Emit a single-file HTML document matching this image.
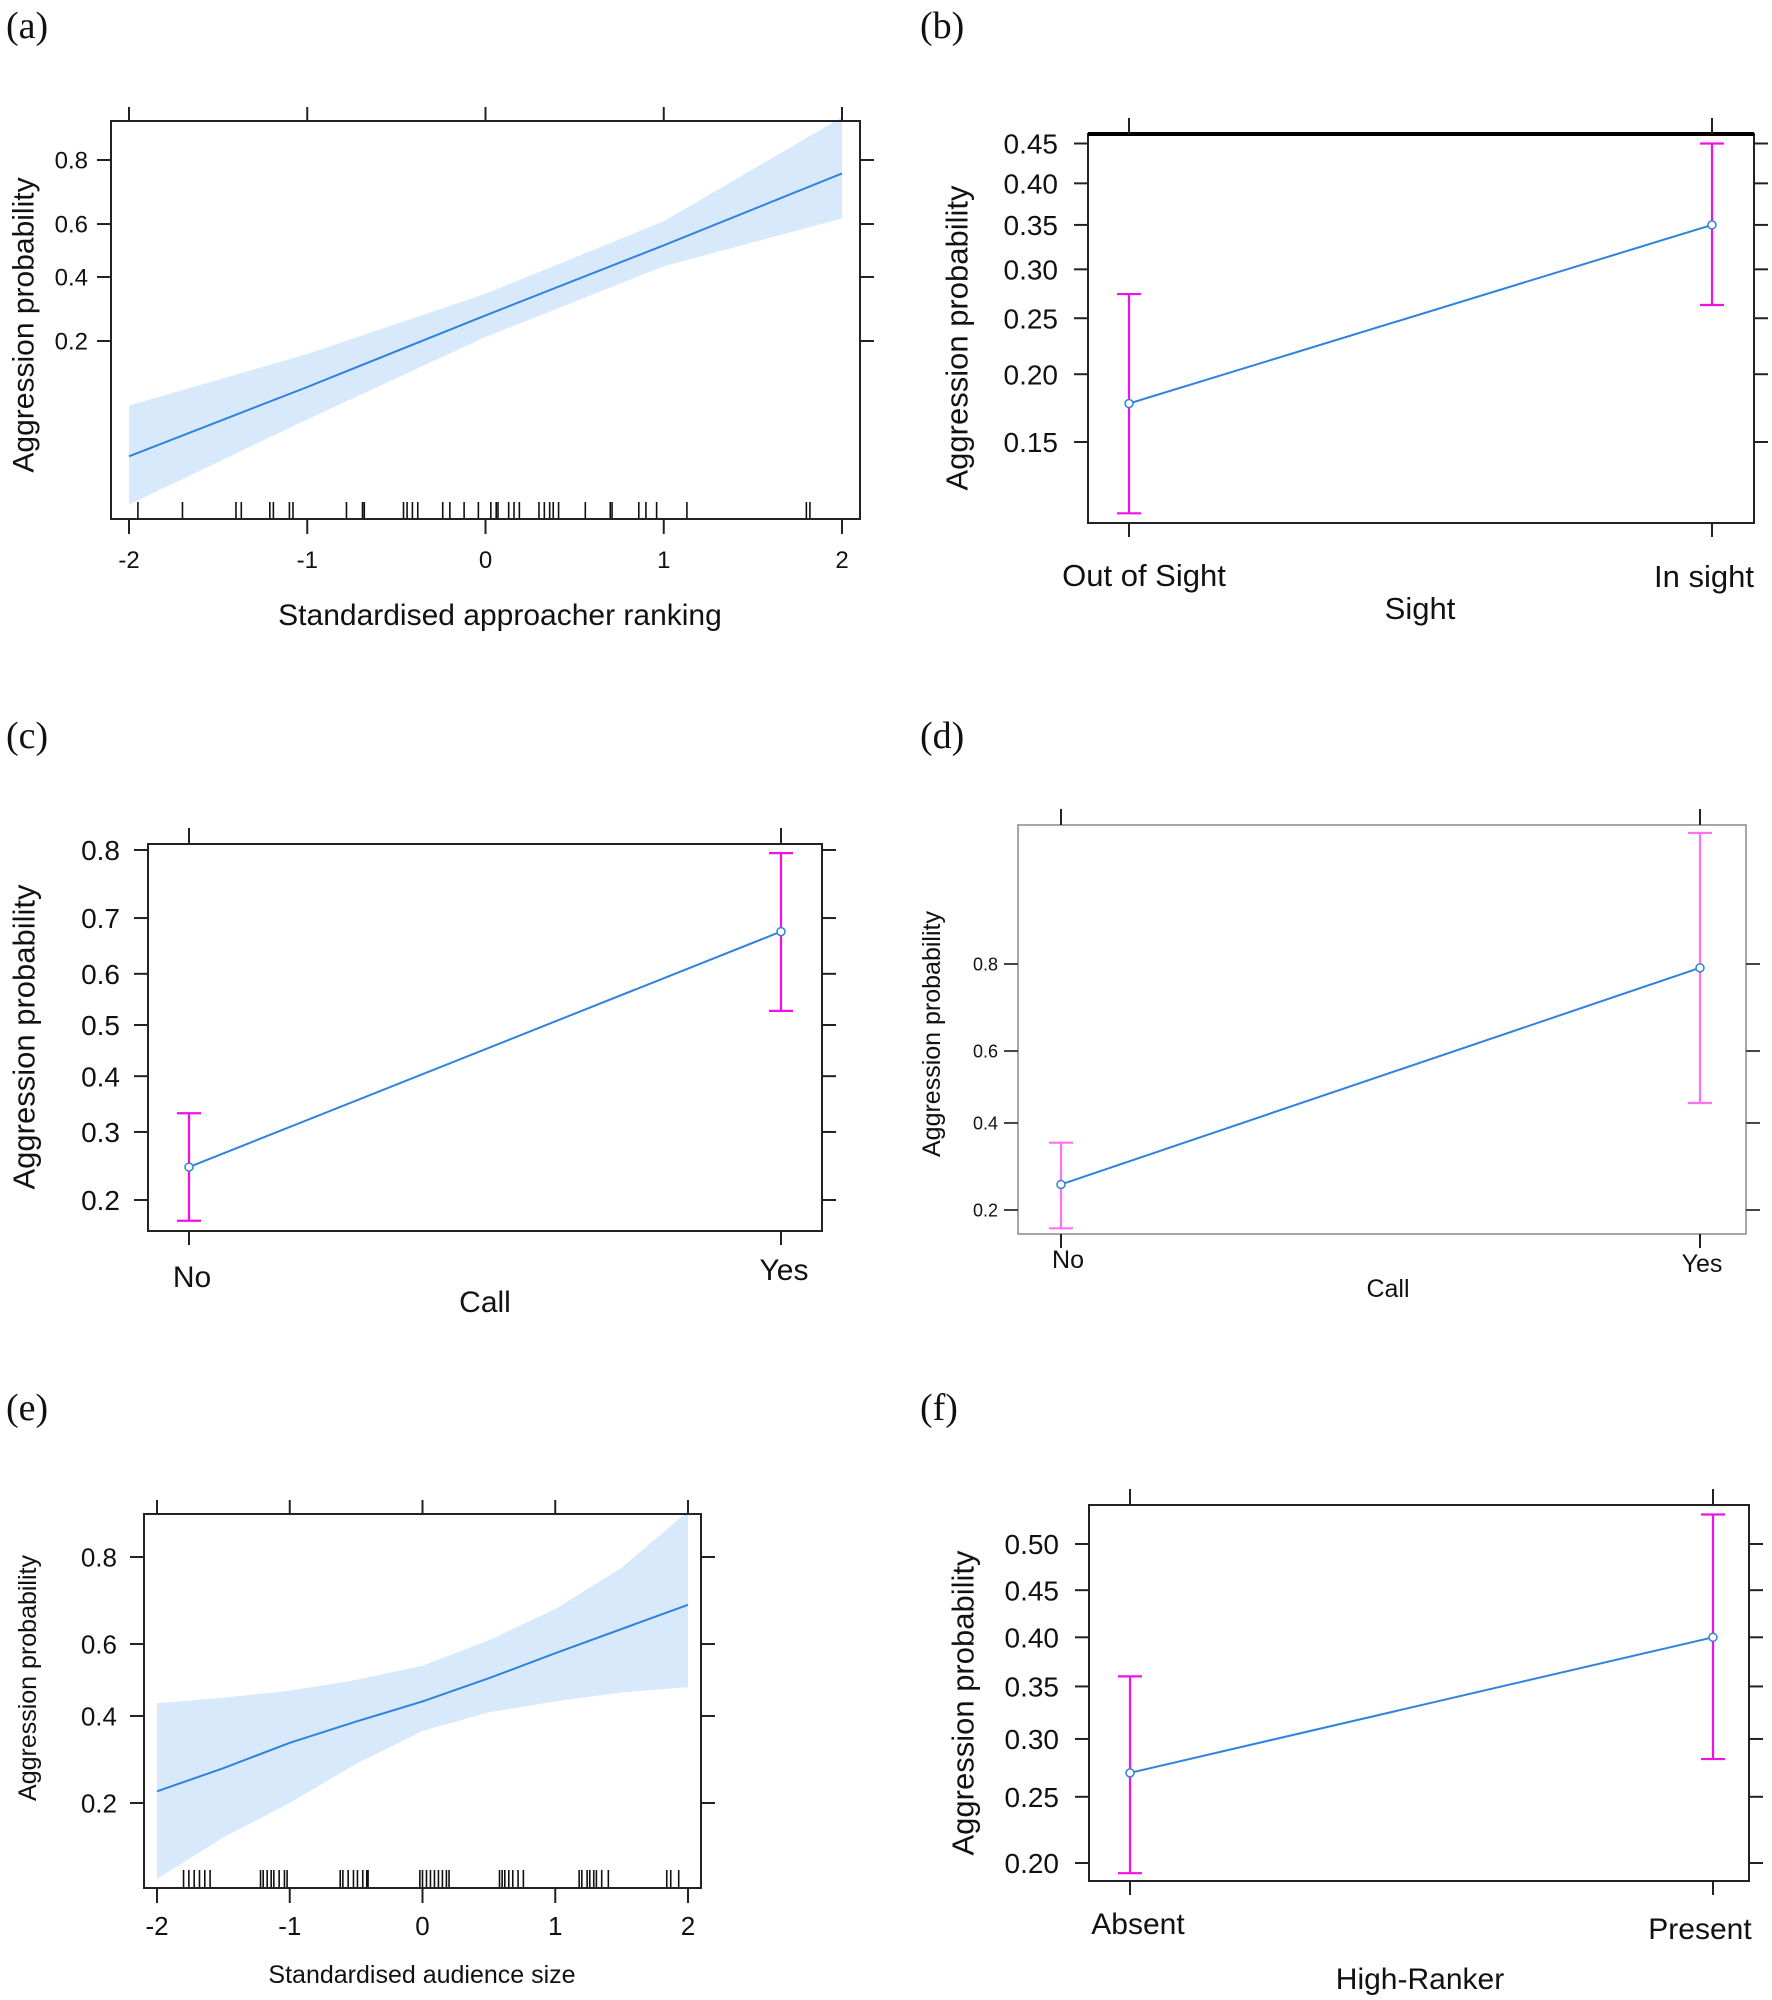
<!DOCTYPE html>
<html><head><meta charset="utf-8">
<style>
html,body{margin:0;padding:0;background:#fff;}
svg{display:block;}
.tk{font-family:"Liberation Sans",Arial,sans-serif;fill:#111;}
.cal{font-family:"Liberation Sans",Arial,sans-serif;fill:#111;}
.ser{font-family:"Liberation Serif","Times New Roman",serif;fill:#111;}
</style></head>
<body>
<svg id="fig" xmlns="http://www.w3.org/2000/svg" width="1772" height="2000" viewBox="0 0 1772 2000"></svg>
<script>
// ---------- Panel (a) data ----------
const aXTicks = [-2, -1, 0, 1, 2];
const aYTicks = [0.2, 0.4, 0.6, 0.8];
const aX = [-2, -1, 0, 1, 2];
const aFit = [0.041, 0.11, 0.27, 0.52, 0.765];
const aLower = [0.02, 0.07, 0.21, 0.44, 0.62];
const aUpper = [0.085, 0.17, 0.34, 0.61, 0.885];
const aRug = [-1.95,-1.7,-1.4,-1.37,-1.21,-1.19,-1.1,-1.08,-0.78,-0.69,-0.68,-0.46,-0.44,-0.41,-0.38,-0.24,-0.2,-0.12,-0.04,0.03,0.06,0.07,0.13,0.16,0.19,0.3,0.33,0.36,0.38,0.41,0.56,0.7,0.71,0.86,0.9,0.96,1.13,1.8,1.82];
// ---------- Panel (b) data ----------
const bCats = ["Out of Sight", "In sight"];
const bYTicks = [0.15, 0.20, 0.25, 0.30, 0.35, 0.40, 0.45];
const bFit = [0.177, 0.35];
const bLower = [0.109, 0.263];
const bUpper = [0.274, 0.45];
// ---------- Panel (c) data ----------
const cCats = ["No", "Yes"];
const cYTicks = [0.2, 0.3, 0.4, 0.5, 0.6, 0.7, 0.8];
const cFit = [0.245, 0.677];
const cLower = [0.175, 0.528];
const cUpper = [0.332, 0.796];
// ---------- Panel (d) data ----------
const dCats = ["No", "Yes"];
const dYTicks = [0.2, 0.4, 0.6, 0.8];
const dFit = [0.25, 0.793];
const dLower = [0.169, 0.455];
const dUpper = [0.348, 0.946];
// ---------- Panel (e) data ----------
const eXTicks = [-2, -1, 0, 1, 2];
const eYTicks = [0.2, 0.4, 0.6, 0.8];
const eX = [-2, -1.5, -1, -0.5, 0, 0.5, 1, 1.5, 2];
const eFit = [0.222, 0.27, 0.33, 0.385, 0.44, 0.505, 0.575, 0.64, 0.70];
const eLower = [0.096, 0.145, 0.2, 0.28, 0.36, 0.41, 0.44, 0.465, 0.48];
const eUpper = [0.435, 0.45, 0.47, 0.5, 0.54, 0.61, 0.69, 0.78, 0.87];
const eRug = [-1.8,-1.76,-1.72,-1.68,-1.64,-1.6,-1.22,-1.2,-1.17,-1.14,-1.12,-1.08,-1.04,-1.02,-0.62,-0.6,-0.56,-0.52,-0.49,-0.45,-0.42,-0.41,-0.02,0,0.03,0.06,0.09,0.12,0.15,0.18,0.2,0.58,0.6,0.62,0.65,0.68,0.72,0.76,1.18,1.2,1.24,1.26,1.29,1.31,1.35,1.4,1.84,1.87,1.93];
// ---------- Panel (f) data ----------
const fCats = ["Absent", "Present"];
const fYTicks = [0.20, 0.25, 0.30, 0.35, 0.40, 0.45, 0.50];
const fFit = [0.27, 0.40];
const fLower = [0.193, 0.282];
const fUpper = [0.36, 0.532];

const NS = "http://www.w3.org/2000/svg";
const svg = document.getElementById("fig");
function mk(tag, attrs, parent, text) {
  const e = document.createElementNS(NS, tag);
  for (const k in attrs) e.setAttribute(k, attrs[k]);
  if (text !== undefined) e.textContent = text;
  (parent || svg).appendChild(e);
  return e;
}
const logit = p => Math.log(p / (1 - p));
function yScale(p1, y1, p2, y2) {
  const l1 = logit(p1), l2 = logit(p2);
  return p => y1 + (logit(p) - l1) * (y2 - y1) / (l2 - l1);
}
function xLin(v1, x1, v2, x2) { return v => x1 + (v - v1) * (x2 - x1) / (v2 - v1); }
function fmt(v, d) { return v.toFixed(d); }

function frame(g, box, stroke, sw) {
  const r = mk("rect", {x: box.l, y: box.t, width: box.r - box.l, height: box.b - box.t, fill: "none", stroke: stroke, "stroke-width": sw}, g);
  
  
}
function panelLabel(txt, x, y, name) {
  const t = mk("text", {x: x, y: y, "font-size": 38, class: "ser"}, svg, txt);
  
  
}
function yAxis(g, box, ticks, ys, dec, fs, labRight, tl, color) {
  ticks.forEach(v => {
    const y = ys(v);
    const l = mk("line", {x1: box.l - tl, x2: box.l, y1: y, y2: y, stroke: color, "stroke-width": 2}, g);
    
    
    const r = mk("line", {x1: box.r, x2: box.r + tl, y1: y, y2: y, stroke: color, "stroke-width": 2}, g);
    
    
    const t = mk("text", {x: labRight, y: y + fs * 0.36, "font-size": fs, "text-anchor": "end", class: "tk"}, g, fmt(v, dec));
    
    
  });
}
function yTitle(g, x, y, fs, txt) {
  const t = mk("text", {x: x, y: y, "font-size": fs, "text-anchor": "middle", class: "cal", transform: "rotate(-90 " + x + " " + y + ")", "dominant-baseline": "central"}, g, txt);
  
  
}

function contPanel(o) {
  const g = mk("g", {});  
  const xs = xLin(-2, o.x0, 2, o.x2);
  const ys = yScale(o.yr[0], o.yr[1], o.yr[2], o.yr[3]);
  let d = "";
  o.X.forEach((v, i) => { d += (i ? "L" : "M") + xs(v).toFixed(1) + "," + ys(o.U[i]).toFixed(1); });
  for (let i = o.X.length - 1; i >= 0; i--) d += "L" + xs(o.X[i]).toFixed(1) + "," + ys(o.L[i]).toFixed(1);
  const band = mk("path", {d: d + "Z", fill: "#d7e9fb", stroke: "none"}, g);
  
  
  let ld = "";
  o.X.forEach((v, i) => { ld += (i ? "L" : "M") + xs(v).toFixed(1) + "," + ys(o.F[i]).toFixed(1); });
  const line = mk("path", {d: ld, fill: "none", stroke: "#2f82de", "stroke-width": 2}, g);
  
  
  o.rug.forEach(v => {
    const r = mk("line", {x1: xs(v), x2: xs(v), y1: o.box.b - o.rugH, y2: o.box.b, stroke: "#111", "stroke-width": 1.6}, g);
    
    
  });
  frame(g, o.box, "#222", 2);
  o.xt.forEach(v => {
    const x = xs(v);
    const t1 = mk("line", {x1: x, x2: x, y1: o.box.t - 14, y2: o.box.t, stroke: "#222", "stroke-width": 2}, g);
    
    
    const t2 = mk("line", {x1: x, x2: x, y1: o.box.b, y2: o.box.b + 15, stroke: "#222", "stroke-width": 2}, g);
    
    
    const lb = mk("text", {x: x, y: o.xlY, "font-size": o.tfs, "text-anchor": "middle", class: "tk"}, g, String(v));
    
    
  });
  yAxis(g, o.box, o.yt, ys, 1, o.tfs, o.labR, 14, "#222");
  const xt = mk("text", {x: o.xtX, y: o.xtY, "font-size": o.xtfs, "text-anchor": "middle", class: "cal"}, g, o.xTitle);
  
  
  yTitle(g, o.ytX, o.ytY, o.ytfs, "Aggression probability");
}

function catPanel(o) {
  const g = mk("g", {});  
  const ys = yScale(o.yr[0], o.yr[1], o.yr[2], o.yr[3]);
  const cx = [o.c0, o.c1];
  frame(g, o.box, o.frameCol, o.fw);
  if (o.thickTop) {
    const tt = mk("line", {x1: o.box.l, x2: o.box.r, y1: o.box.t, y2: o.box.t, stroke: "#000", "stroke-width": 4}, g);
    
    
  }
  cx.forEach((x, i) => {
    const t1 = mk("line", {x1: x, x2: x, y1: o.box.t - 16, y2: o.box.t, stroke: "#222", "stroke-width": 2}, g);
    
    
    const t2 = mk("line", {x1: x, x2: x, y1: o.box.b, y2: o.box.b + 14, stroke: "#222", "stroke-width": 2}, g);
    
    
    const lb = mk("text", {x: x + o.catDx[i], y: o.catY[i], "font-size": o.cfs, "text-anchor": "middle", class: "cal"}, g, o.cats[i]);
    
    
  });
  yAxis(g, o.box, o.yt, ys, o.dec, o.tfs, o.labR, 14, o.tickCol);
  const ln = mk("line", {x1: cx[0], y1: ys(o.F[0]), x2: cx[1], y2: ys(o.F[1]), stroke: "#2f82de", "stroke-width": 2}, g);
  
  
  cx.forEach((x, i) => {
    const yl = ys(o.L[i]), yu = ys(o.U[i]);
    const eb = mk("path", {d: "M" + x + "," + yl + "V" + yu + "M" + (x - 12) + "," + yu + "H" + (x + 12) + "M" + (x - 12) + "," + yl + "H" + (x + 12), fill: "none", stroke: o.errCol, "stroke-width": 2.2}, g);
    
    
    const pt = mk("circle", {cx: x, cy: ys(o.F[i]), r: 4, fill: "#fff", stroke: "#2f82de", "stroke-width": 1.5}, g);
    
    
  });
  const xt = mk("text", {x: o.xtX, y: o.xtY, "font-size": o.xtfs, "text-anchor": "middle", class: "cal"}, g, o.xTitle);
  
  
  yTitle(g, o.ytX, o.ytY, o.ytfs, "Aggression probability");
}

panelLabel("(a)", 6, 38, "panel-label-a");
panelLabel("(b)", 920, 38, "panel-label-b");
panelLabel("(c)", 6, 748, "panel-label-c");
panelLabel("(d)", 920, 748, "panel-label-d");
panelLabel("(e)", 6, 1420, "panel-label-e");
panelLabel("(f)", 920, 1420, "panel-label-f");

contPanel({name: "panel-a", box: {l: 111, r: 860, t: 121, b: 519}, x0: 129, x2: 842,
  yr: [0.8, 160, 0.2, 341], X: aX, F: aFit, L: aLower, U: aUpper, rug: aRug, rugH: 17,
  xt: aXTicks, yt: aYTicks, tfs: 24, xlY: 568, labR: 88,
  xTitle: "Standardised approacher ranking", xtX: 500, xtY: 625, xtfs: 30,
  ytX: 24, ytY: 325, ytfs: 30});

catPanel({name: "panel-b", box: {l: 1088, r: 1754, t: 134, b: 523}, c0: 1129, c1: 1712,
  yr: [0.45, 143.5, 0.15, 442], yt: bYTicks, dec: 2, tfs: 28, labR: 1058, tickCol: "#222",
  cats: bCats, catDx: [15, -8], catY: [586, 587], cfs: 31, F: bFit, L: bLower, U: bUpper,
  errCol: "#f010e8", frameCol: "#222", fw: 2, thickTop: true,
  xTitle: "Sight", xtX: 1420, xtY: 619, xtfs: 31, ytX: 957, ytY: 338, ytfs: 31});

catPanel({name: "panel-c", box: {l: 148, r: 822, t: 844, b: 1231}, c0: 189, c1: 781,
  yr: [0.8, 850, 0.2, 1200], yt: cYTicks, dec: 1, tfs: 28, labR: 120, tickCol: "#222",
  cats: cCats, catDx: [3, 3], catY: [1287, 1280], cfs: 30, F: cFit, L: cLower, U: cUpper,
  errCol: "#f010e8", frameCol: "#222", fw: 2, thickTop: false,
  xTitle: "Call", xtX: 485, xtY: 1312, xtfs: 30, ytX: 24, ytY: 1037, ytfs: 31});

catPanel({name: "panel-d", box: {l: 1018, r: 1746, t: 825, b: 1234}, c0: 1061, c1: 1700,
  yr: [0.8, 964, 0.2, 1210], yt: dYTicks, dec: 1, tfs: 18, labR: 998, tickCol: "#444",
  cats: dCats, catDx: [7, 2], catY: [1268, 1272], cfs: 25, F: dFit, L: dLower, U: dUpper,
  errCol: "#ff70f5", frameCol: "#888", fw: 1.5, thickTop: false,
  xTitle: "Call", xtX: 1388, xtY: 1297, xtfs: 25, ytX: 932, ytY: 1034, ytfs: 25});

contPanel({name: "panel-e", box: {l: 144, r: 701, t: 1514, b: 1888}, x0: 157, x2: 688,
  yr: [0.8, 1557, 0.2, 1803], X: eX, F: eFit, L: eLower, U: eUpper, rug: eRug, rugH: 18,
  xt: eXTicks, yt: eYTicks, tfs: 26, xlY: 1935, labR: 117,
  xTitle: "Standardised audience size", xtX: 422, xtY: 1983, xtfs: 25,
  ytX: 28, ytY: 1678, ytfs: 25});

catPanel({name: "panel-f", box: {l: 1089, r: 1749, t: 1505, b: 1881}, c0: 1130, c1: 1713,
  yr: [0.5, 1544, 0.2, 1863], yt: fYTicks, dec: 2, tfs: 28, labR: 1059, tickCol: "#222",
  cats: fCats, catDx: [8, -13], catY: [1934, 1939], cfs: 30, F: fFit, L: fLower, U: fUpper,
  errCol: "#f010e8", frameCol: "#222", fw: 2, thickTop: false,
  xTitle: "High-Ranker", xtX: 1420, xtY: 1989, xtfs: 30, ytX: 963, ytY: 1703, ytfs: 31});
</script>
</body></html>
